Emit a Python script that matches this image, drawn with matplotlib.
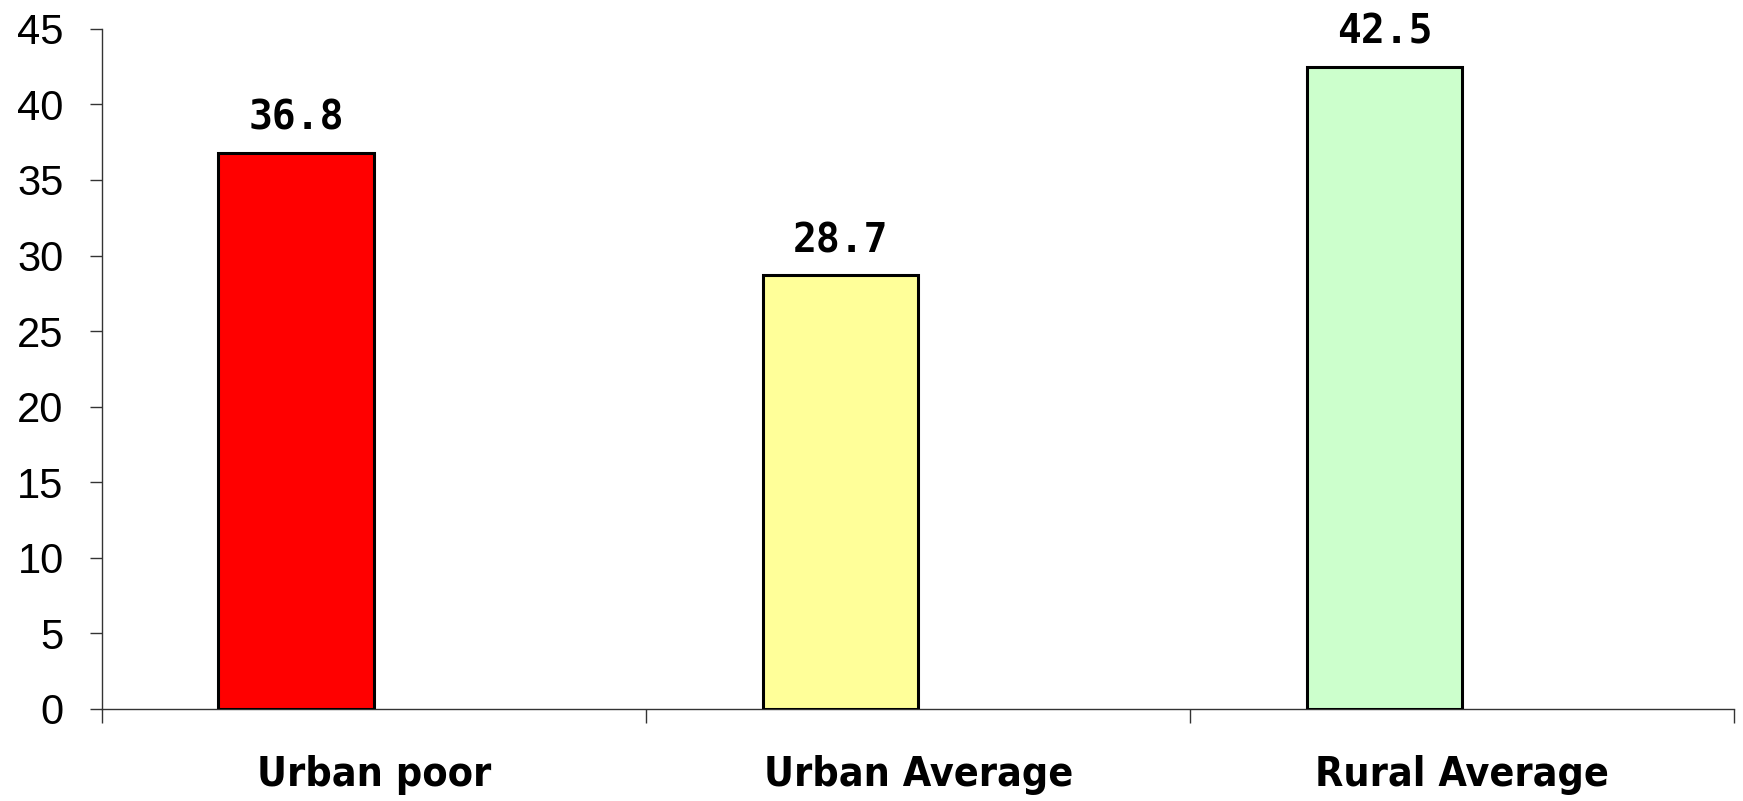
import matplotlib
matplotlib.use('Agg')

import numpy as np
import matplotlib.pyplot as plt

# 数据
categories = ['Urban poor', 'Urban Average', 'Rural Average']
values = [36.8, 28.7, 42.5]
bar_colors = ['#FF0000', '#FFFF99', '#CCFFCC']

fig = plt.figure(figsize=(17.43, 8.01), dpi=100)
ax = fig.add_axes([0.0585, 0.115, 0.9365, 0.849])

x = np.arange(len(categories))
bar_w = 0.286
# 柱子偏左 (原图为双系列, 第二系列为空)
ax.bar(x - bar_w / 2, values, width=bar_w, color=bar_colors,
       edgecolor='black', linewidth=2.2, zorder=3)

for xi, v in zip(x, values):
    ax.annotate(f'{v:.1f}', (xi - bar_w / 2, v), xytext=(0, 16.5),
                textcoords='offset points', ha='center', va='baseline',
                fontsize=28.5, fontweight='bold', family='DejaVu Sans Mono')

ax.set_xlim(-0.5, len(categories) - 0.5)
ax.set_ylim(0, 45)
ax.set_yticks(np.arange(0, 46, 5))
ax.tick_params(axis='y', length=8.6, width=1, pad=19, labelsize=30,
               color='#333333')
for lab in ax.get_yticklabels():
    lab.set_family('Liberation Sans')

# x 轴: 分隔刻度在类别边界, 标签在类别中心
ax.set_xticks(np.arange(-0.5, len(categories)), labels=[''] * (len(categories) + 1))
ax.tick_params(axis='x', which='major', length=10, width=1, color='#333333',
               direction='out')
ax.set_xticks(x, labels=categories, minor=True)
ax.tick_params(axis='x', which='minor', length=0, pad=33, labelsize=29.5)
for lab in ax.get_xticklabels(minor=True):
    lab.set_fontweight('bold')
    lab.set_fontstretch('condensed')

for s in ['top', 'right']:
    ax.spines[s].set_visible(False)
for s in ['left', 'bottom']:
    ax.spines[s].set_color('#333333')
    ax.spines[s].set_linewidth(1)

fig.savefig('out.png', dpi=100)
